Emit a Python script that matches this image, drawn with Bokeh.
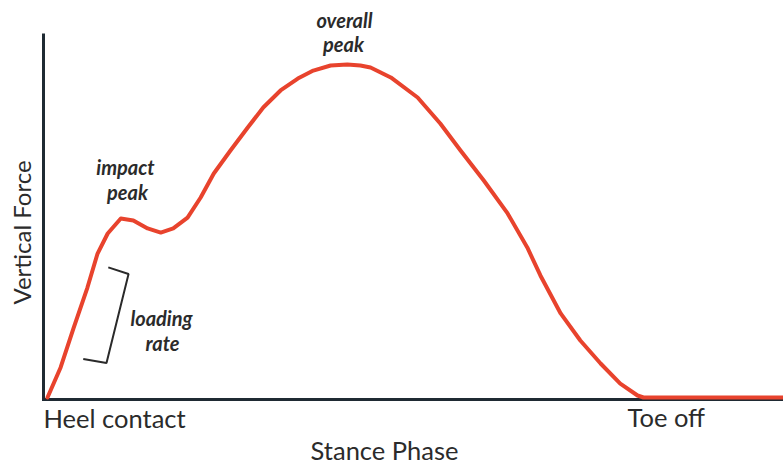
from bokeh.plotting import figure
from bokeh.models import Range1d, Label
from bokeh.embed import file_html
from bokeh.resources import INLINE

# Stance phase (% of stance, 0 = heel contact, 100 = toe off) and vertical force (body weights)
stance_pct = [0, 2.2, 4.4, 6.7, 8.4, 10.1, 12.3, 14.4, 16.8, 19.0, 21.1, 23.5, 25.7,
              27.9, 30.7, 33.6, 36.2, 39.1, 42.0, 44.6, 47.5, 50.3, 52.5, 54.2, 57.6,
              62.1, 65.9, 69.3, 73.2, 77.2, 80.5, 82.7, 86.1, 89.4, 92.8, 96.1, 99.0,
              100, 123.5]
vertical_force = [0, 0.226, 0.527, 0.828, 1.084, 1.235, 1.348, 1.333, 1.273, 1.242, 1.273,
                  1.355, 1.506, 1.687, 1.860, 2.033, 2.184, 2.312, 2.402, 2.462, 2.500,
                  2.508, 2.500, 2.485, 2.410, 2.259, 2.063, 1.860, 1.634, 1.386, 1.130,
                  0.919, 0.633, 0.429, 0.256, 0.105, 0.015, 0, 0]

# loading-rate bracket (data units)
bracket_x = [10.2, 13.6, 9.9, 6.0]
bracket_y = [0.98, 0.93, 0.26, 0.29]

# axis extents (data units): x axis from X_LO to X_HI at Y_LO, y axis from Y_LO to Y_HI at X_LO
X_LO, X_HI = -0.67, 123.5
Y_LO, Y_HI = -0.015, 2.741

tick_labels = ["Heel contact", "Toe off"]
x_title = "Stance Phase"
y_title = "Vertical Force"

W, H = 783, 465
p = figure(width=W, height=H, output_backend="svg", toolbar_location=None,
           x_axis_location=None, y_axis_location=None,
           x_range=Range1d(-7.886, 123.49), y_range=Range1d(-0.512, 2.9895),
           min_border=0)
p.outline_line_color = None
p.grid.visible = False
p.background_fill_color = "white"
p.border_fill_color = "white"

# axes
p.line([X_LO, X_LO, X_HI], [Y_HI, Y_LO, Y_LO], line_color="#1f2a33", line_width=3, line_join="miter")

p.line(stance_pct, vertical_force, line_color="#e8432d", line_width=4, line_join="round", line_cap="round")
p.line(bracket_x, bracket_y, line_color="#2a2a2a", line_width=2)

FONT = "Lato"
TXT = "#2b2b2b"

def lab(x, y, t, size, style="normal", align="left", angle=0, baseline="alphabetic"):
    # x, y in screen pixels from the canvas's bottom-left corner
    p.add_layout(Label(x=x, y=y, x_units="screen", y_units="screen", text=t,
                       text_font=FONT, text_font_size=f"{size}px", text_font_style=style,
                       text_color=TXT, text_align=align, text_baseline=baseline, angle=angle))

lab(43, 48, tick_labels[0], 25.5)
lab(627, 49, tick_labels[1], 25.5)
lab(384, 16, x_title, 25.5, align="center")
lab(21, 233, y_title, 24, align="center", angle=1.5708, baseline="middle")

lab(125, 299, "impact", 20, "bold italic", "center")
lab(127, 274, "peak", 20, "bold italic", "center")
lab(344, 446, "overall", 20, "bold italic", "center")
lab(343, 422, "peak", 20, "bold italic", "center")
lab(161, 148, "loading", 20, "bold italic", "center")
lab(162, 123, "rate", 20, "bold italic", "center")

open("out.html", "w").write(file_html(p, INLINE))
